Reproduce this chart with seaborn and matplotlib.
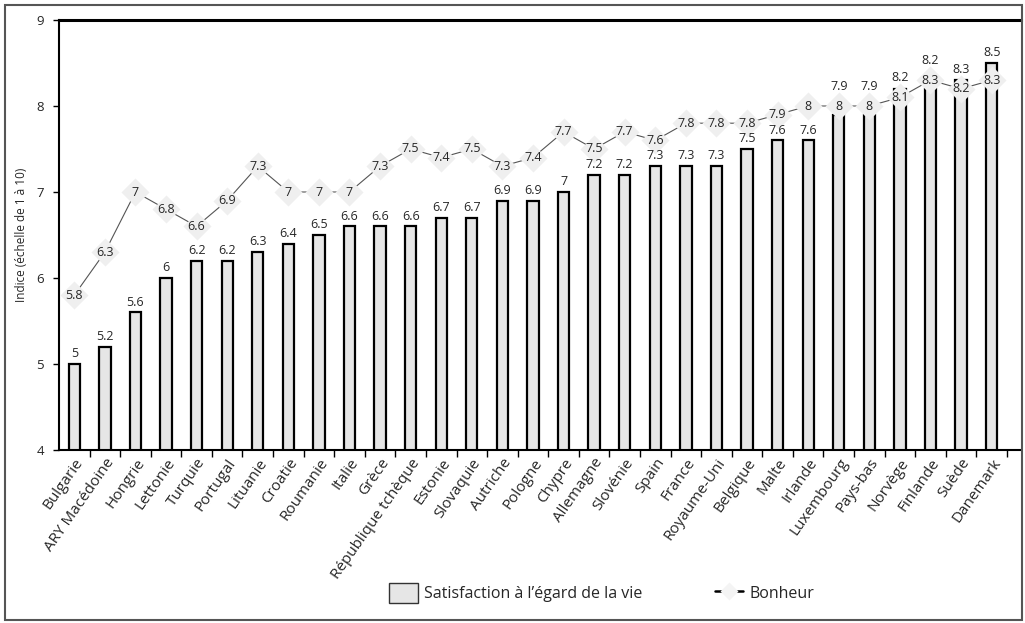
import matplotlib
matplotlib.use("Agg")
import matplotlib.pyplot as plt
import seaborn as sns
import pandas as pd
import numpy as np
from matplotlib.patches import Rectangle, Patch
from matplotlib.lines import Line2D

countries = ["Bulgarie", "ARY Macédoine", "Hongrie", "Lettonie", "Turquie", "Portugal",
             "Lituanie", "Croatie", "Roumanie", "Italie", "Grèce", "République tchèque",
             "Estonie", "Slovaquie", "Autriche", "Pologne", "Chypre", "Allemagne",
             "Slovénie", "Spain", "France", "Royaume-Uni", "Belgique", "Malte", "Irlande",
             "Luxembourg", "Pays-bas", "Norvège", "Finlande", "Suède", "Danemark"]
satisfaction = [5, 5.2, 5.6, 6, 6.2, 6.2, 6.3, 6.4, 6.5, 6.6, 6.6, 6.6, 6.7, 6.7, 6.9, 6.9,
                7, 7.2, 7.2, 7.3, 7.3, 7.3, 7.5, 7.6, 7.6, 7.9, 7.9, 8.2, 8.2, 8.3, 8.5]
bonheur = [5.8, 6.3, 7, 6.8, 6.6, 6.9, 7.3, 7, 7, 7, 7.3, 7.5, 7.4, 7.5, 7.3, 7.4,
           7.7, 7.5, 7.7, 7.6, 7.8, 7.8, 7.8, 7.9, 8, 8, 8, 8.1, 8.3, 8.2, 8.3]
yticks = [4, 5, 6, 7, 8, 9]

sns.set_style("white")
plt.rcParams['font.family'] = ['Open Sans', 'DejaVu Sans']

df = pd.DataFrame({"pays": countries, "satisfaction": satisfaction, "bonheur": bonheur})

fig = plt.figure(figsize=(10.25, 6.23), dpi=100)
ax = fig.add_axes([59/1025, 1-450/623, (1021-59)/1025, (450-20)/623])

sns.barplot(data=df, x="pays", y="satisfaction", ax=ax, color="#e6e6e6",
            edgecolor="black", linewidth=1.6, width=0.37, saturation=1)
x = np.arange(len(countries))
ax.plot(x, bonheur, color="#555555", lw=0.8, zorder=3)
ax.plot(x, bonheur, linestyle="none", marker="D", markersize=14,
        markerfacecolor="#efefef", markeredgecolor="none", zorder=4)

for i, (s, b) in enumerate(zip(satisfaction, bonheur)):
    ylab = s + 0.12
    if b - s < 0.25:
        ylab = max(ylab, b + 0.23)
    ax.text(i, ylab, f"{s:g}", ha="center", va="center", fontsize=9, zorder=5)
    ax.text(i, b, f"{b:g}", ha="center", va="center", fontsize=9, zorder=5)

ax.set_ylim(4, 9)
ax.set_xlim(-0.5, 30.96)
ax.set_yticks(yticks)
ax.set_yticklabels([str(t) for t in yticks], fontsize=9.5)
ax.set_ylabel("Indice (échelle de 1 à 10)", fontsize=8.5, labelpad=6)
ax.set_xlabel("")
ax.set_xticks(x)
ax.set_xticklabels(countries, rotation=55, ha="right", rotation_mode="anchor", fontsize=11)
ax.set_xticks(np.arange(len(countries)) + 0.5, minor=True)
ax.tick_params(axis="x", which="major", length=0, pad=4)
ax.tick_params(axis="x", which="minor", length=5, width=1, color="black", direction="out", bottom=True)
ax.tick_params(axis="y", length=4, width=1, color="black", direction="out", left=True, pad=7)

for side in ["left", "bottom"]:
    ax.spines[side].set_color("black")
    ax.spines[side].set_linewidth(1.5)
ax.spines["top"].set_color("black")
ax.spines["top"].set_linewidth(2.2)
ax.spines["right"].set_visible(False)

handles = [Patch(facecolor="#e6e6e6", edgecolor="#333333", linewidth=1),
           Line2D([0], [0], color="black", lw=1.8, marker="D", markersize=9,
                  markerfacecolor="#f4f4f4", markeredgecolor="none")]
fig.legend(handles, ["Satisfaction à l’égard de la vie", "Bonheur"], loc="center",
           bbox_to_anchor=(602/1025, 1-593/623), ncol=2, frameon=False, fontsize=11.5,
           columnspacing=4.5, handlelength=1.8, handleheight=1.5, handletextpad=0.4)

fig.patches.append(Rectangle((5/1025, 3/623), 1017/1025, 615/623, transform=fig.transFigure,
                             fill=False, edgecolor="#555555", linewidth=1.5, zorder=0))

fig.savefig("out.png", dpi=100)
